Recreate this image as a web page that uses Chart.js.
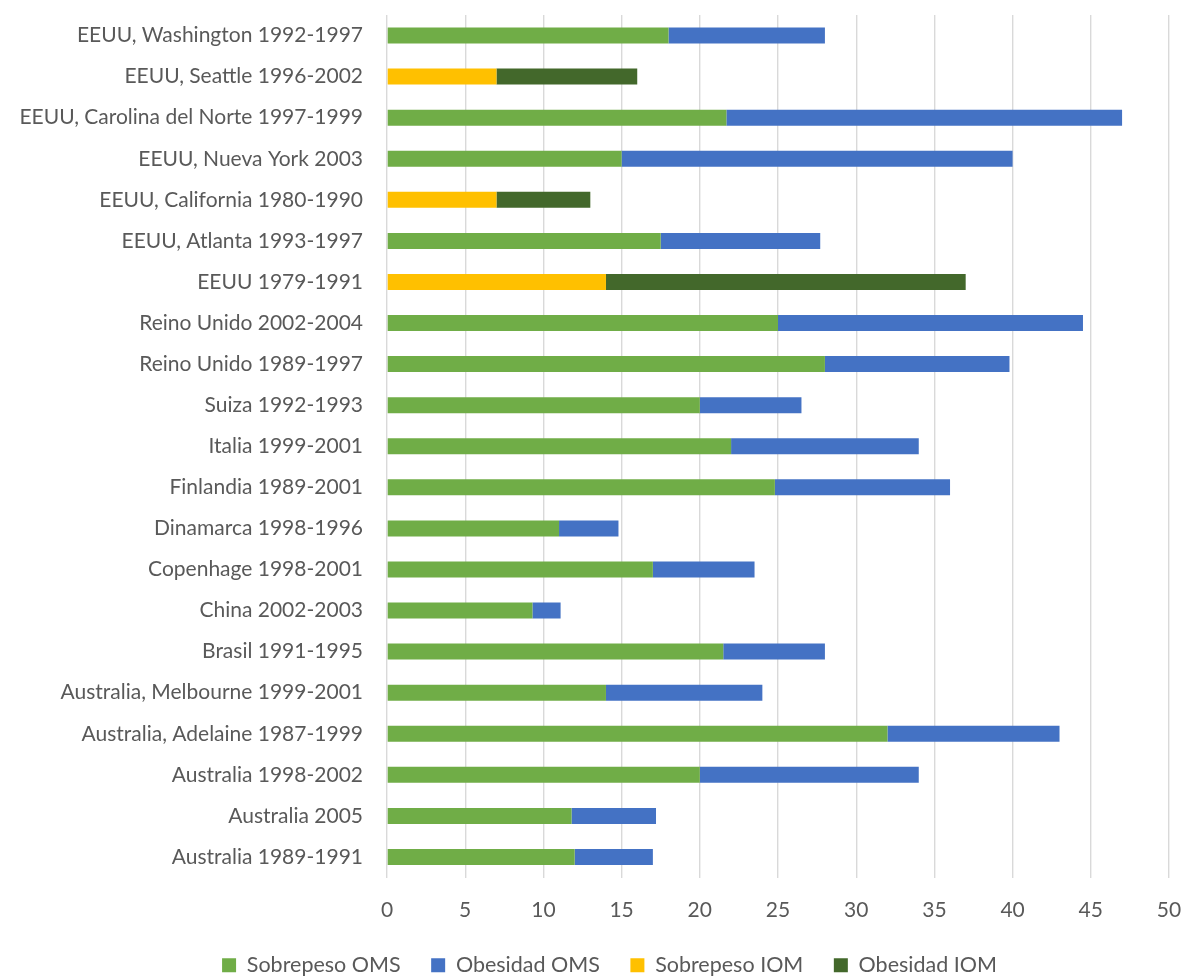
<!DOCTYPE html>
<html>
<head>
<meta charset="utf-8">
<script src="https://cdn.jsdelivr.net/npm/chart.js@4"></script>
<style>
  html, body { margin: 0; padding: 0; background: #fff; }
  #wrap { width: 1185px; height: 976px; position: relative; }
</style>
</head>
<body>
<div id="wrap"><canvas id="grafico"></canvas></div>
<script>
// Datos del gráfico (de arriba hacia abajo)
const categorias = [
    'EEUU, Washington 1992-1997',
    'EEUU, Seattle 1996-2002',
    'EEUU, Carolina del Norte 1997-1999',
    'EEUU, Nueva York 2003',
    'EEUU, California 1980-1990',
    'EEUU, Atlanta 1993-1997',
    'EEUU 1979-1991',
    'Reino Unido 2002-2004',
    'Reino Unido 1989-1997',
    'Suiza 1992-1993',
    'Italia 1999-2001',
    'Finlandia 1989-2001',
    'Dinamarca 1998-1996',
    'Copenhage 1998-2001',
    'China 2002-2003',
    'Brasil 1991-1995',
    'Australia, Melbourne 1999-2001',
    'Australia, Adelaine 1987-1999',
    'Australia 1998-2002',
    'Australia 2005',
    'Australia 1989-1991'
];

const sobrepesoOMS = [18, null, 21.7, 15, null, 17.5, null, 25, 28, 20, 22, 24.8, 11, 17, 9.3, 21.5, 14, 32, 20, 11.8, 12];
const obesidadOMS  = [10, null, 25.3, 25, null, 10.2, null, 19.5, 11.8, 6.5, 12, 11.2, 3.8, 6.5, 1.8, 6.5, 10, 11, 14, 5.4, 5];
const sobrepesoIOM = [null, 7, null, null, 7, null, 14, null, null, null, null, null, null, null, null, null, null, null, null, null, null];
const obesidadIOM  = [null, 9, null, null, 6, null, 23, null, null, null, null, null, null, null, null, null, null, null, null, null, null];

const ctx = document.getElementById('grafico');
const fuente = 'Lato, "Open Sans", sans-serif';

// mueve la leyenda un poco a la derecha, como en el original
const moverLeyenda = {
    id: 'moverLeyenda',
    afterLayout(chart) {
        chart.legend.left += 25;
        chart.legend.right += 25;
    }
};

const grafico = new Chart(ctx, {
    type: 'bar',
    data: {
        labels: categorias,
        datasets: [
            { label: 'Sobrepeso OMS', data: sobrepesoOMS, backgroundColor: '#70AD47' },
            { label: 'Obesidad OMS', data: obesidadOMS, backgroundColor: '#4472C4' },
            { label: 'Sobrepeso IOM', data: sobrepesoIOM, backgroundColor: '#FFC000' },
            { label: 'Obesidad IOM', data: obesidadIOM, backgroundColor: '#43682B' }
        ]
    },
    options: {
        indexAxis: 'y',
        responsive: true,
        maintainAspectRatio: false,
        animation: false,
        layout: {
            padding: { top: 15, right: 16, bottom: -10, left: 0 }
        },
        datasets: {
            bar: { barPercentage: 0.39, categoryPercentage: 1 }
        },
        scales: {
            x: {
                stacked: true,
                min: 0,
                max: 50,
                ticks: { stepSize: 5, color: '#595959', font: { family: fuente, size: 21 }, padding: 20 },
                grid: { color: '#d9d9d9', lineWidth: 1.4, drawTicks: false },
                border: { display: false },
                afterFit: function(scale) {
                    scale.height = 74;
                    scale.paddingLeft = 0;
                    scale.paddingRight = 0;
                }
            },
            y: {
                stacked: true,
                ticks: { color: '#595959', font: { family: fuente, size: 21 }, padding: 16 },
                grid: { display: false },
                border: { display: false },
                afterFit: function(scale) {
                    scale.width = 387;
                    scale.paddingTop = 0;
                    scale.paddingBottom = 0;
                }
            }
        },
        plugins: {
            legend: {
                position: 'bottom',
                labels: {
                    color: '#595959',
                    font: { family: fuente, size: 21.5 },
                    boxWidth: 14,
                    boxHeight: 14,
                    padding: 3,
                    generateLabels: function(chart) {
                        const items = Chart.defaults.plugins.legend.labels.generateLabels(chart);
                        // espacio entre elementos de la leyenda
                        items.forEach((item, i) => {
                            if (i < items.length - 1) item.text = item.text + '     ';
                        });
                        return items;
                    }
                }
            },
            tooltip: { enabled: false }
        }
    },
    plugins: [moverLeyenda]
});
</script>
</body>
</html>
